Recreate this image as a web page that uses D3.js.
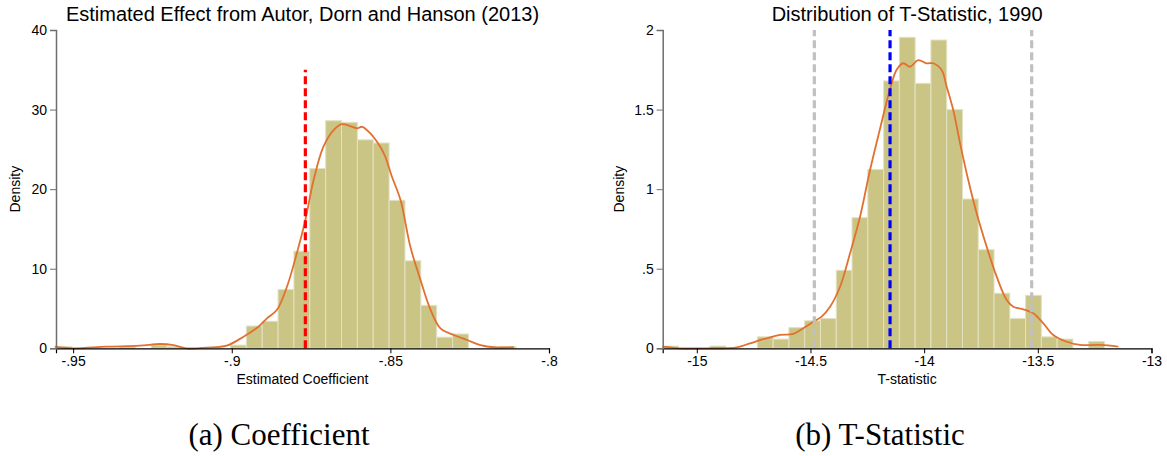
<!DOCTYPE html>
<html>
<head>
<meta charset="utf-8">
<script src="https://cdnjs.cloudflare.com/ajax/libs/d3/7.8.5/d3.min.js"></script>
<style>
  body { margin: 0; background: #fff; }
  text { font-family: "Liberation Sans", Arial, sans-serif; fill: #000; }
  .caption { font-family: "Liberation Serif", "DejaVu Serif", serif; }
</style>
</head>
<body>
<div id="chart"></div>
<script>
// ---- data ----

// panel (a): estimated coefficient
var coefBinStart = -0.9554;
var coefBinWidth = 0.005;
var coefDensity = [0.2, 0, 0, 0, 0.2, 0, 0.4, 0.2, 0, 0, 0, 0.4, 2.8, 3.4, 7.4, 12.2,
  22.6, 28.6, 28.4, 26.2, 25.8, 18.6, 11.0, 5.4, 1.4, 1.8, 0, 0, 0.2];
var coefKdeX = [-0.9558, -0.9500, -0.9395, -0.9290, -0.9226, -0.9184, -0.9142, -0.9079,
  -0.9016, -0.8963, -0.8916, -0.8889, -0.8858, -0.8826, -0.8795, -0.8768, -0.8742, -0.8711,
  -0.8679, -0.8653, -0.8626, -0.8605, -0.8589, -0.8563, -0.8532, -0.8516, -0.8495, -0.8468,
  -0.8437, -0.8405, -0.8373, -0.8342, -0.8300, -0.8258, -0.8216, -0.8174, -0.8111];
var coefKdeY = [0.2, 0.0, 0.2, 0.33, 0.54, 0.41, 0.0, 0.08, 0.33, 1.46, 2.71, 3.77, 4.81,
  7.74, 11.93, 16.12, 21.14, 25.33, 27.42, 28.17, 27.93, 27.64, 27.84, 27.01, 25.33, 24.07,
  21.56, 18.63, 12.76, 8.58, 4.81, 2.51, 1.67, 1.04, 0.41, 0.13, 0.13];
var coefTicksX = [-0.95, -0.9, -0.85, -0.8];
var coefTickLabelsX = ["-.95", "-.9", "-.85", "-.8"];
var coefTicksY = [0, 10, 20, 30, 40];
var coefTickLabelsY = ["0", "10", "20", "30", "40"];
var coefAdh = -0.8768;      // red dashed line
var coefAdhTop = 35;

// panel (b): t-statistic
var tBinStart = -15.15;
var tBinWidth = 0.0694;
var tDensity = [0.014, 0, 0, 0.014, 0, 0, 0.072, 0.058, 0.13, 0.173, 0.187, 0.49, 0.821,
  1.124, 1.68, 1.954, 1.665, 1.937, 1.50, 0.938, 0.62, 0.346, 0.187, 0.333, 0.072, 0.058, 0, 0.043];
var tKdeX = [-15.150, -15.074, -14.956, -14.824, -14.766, -14.707, -14.634, -14.576, -14.532,
  -14.488, -14.451, -14.414, -14.370, -14.326, -14.282, -14.238, -14.194, -14.150, -14.121,
  -14.092, -14.062, -14.026, -13.989, -13.960, -13.923, -13.901, -13.872, -13.842, -13.806,
  -13.769, -13.725, -13.681, -13.637, -13.608, -13.564, -13.520, -13.476, -13.432, -13.373,
  -13.314, -13.226, -13.146];
var tKdeY = [0.010, 0, 0, 0.006, 0.031, 0.057, 0.084, 0.09, 0.126, 0.167, 0.199, 0.261, 0.387,
  0.597, 0.827, 1.12, 1.38, 1.63, 1.75, 1.791, 1.769, 1.811, 1.791, 1.791, 1.749, 1.644, 1.497,
  1.288, 1.057, 0.848, 0.638, 0.45, 0.303, 0.261, 0.245, 0.22, 0.157, 0.084, 0.041, 0.021,
  0.021, 0.01];
var tTicksX = [-15, -14.5, -14, -13.5, -13];
var tTickLabelsX = ["-15", "-14.5", "-14", "-13.5", "-13"];
var tTicksY = [0, 0.5, 1, 1.5, 2];
var tTickLabelsY = ["0", ".5", "1", "1.5", "2"];
var tCritLines = [-14.483, -13.527];   // gray dashed
var tMean = -14.150;                   // blue dashed
var tLineTop = 2;

// ---- svg ----
var svgWidth = 1167;
var svgHeight = 456;

var svg = d3.select("#chart").append("svg")
  .attr("width", svgWidth)
  .attr("height", svgHeight);

var barFill = "#cbc585";
var barEdge = "#e4e1c3";
var kdeColor = "#e2702f";

function drawPanel(p) {
  var g = svg.append("g");

  var x = d3.scaleLinear().domain(p.xDomain).range(p.xRange);
  var y = d3.scaleLinear().domain(p.yDomain).range(p.yRange);

  // histogram bars
  var bins = p.density.map(function(d, i) {
    return { x0: p.binStart + i * p.binWidth, x1: p.binStart + (i + 1) * p.binWidth, h: d };
  }).filter(function(b) { return b.h > 0; });

  g.selectAll("rect.bar")
    .data(bins)
    .enter()
    .append("rect")
    .attr("class", "bar")
    .attr("x", d => x(d.x0))
    .attr("width", d => x(d.x1) - x(d.x0))
    .attr("y", d => y(d.h))
    .attr("height", d => y(0) - y(d.h))
    .attr("fill", barFill)
    .attr("stroke", barEdge)
    .attr("stroke-width", 1);

  // kernel density
  var kde = p.kdeX.map(function(v, i) { return [v, p.kdeY[i]]; });
  g.append("path")
    .datum(kde)
    .attr("fill", "none")
    .attr("stroke", kdeColor)
    .attr("stroke-width", 1.8)
    .attr("d", d3.line()
      .x(d => x(d[0]))
      .y(d => y(d[1]))
      .curve(d3.curveCatmullRom.alpha(0.5)));

  // reference lines
  g.selectAll("line.ref")
    .data(p.refLines)
    .enter()
    .append("line")
    .attr("class", "ref")
    .attr("x1", d => x(d.v))
    .attr("x2", d => x(d.v))
    .attr("y1", y(0))
    .attr("y2", d => y(d.top))
    .attr("stroke", d => d.color)
    .attr("stroke-width", 3.2)
    .attr("stroke-dasharray", "8,4");

  // axes
  var xAxis = d3.axisBottom(x)
    .tickValues(p.ticksX)
    .tickSize(5)
    .tickPadding(3)
    .tickFormat((d, i) => p.tickLabelsX[i]);
  var gx = g.append("g")
    .attr("transform", `translate(0, ${y(0)})`)
    .call(xAxis);
  gx.select(".domain").attr("stroke", "#000").attr("stroke-width", 1.2);
  gx.selectAll(".tick line").attr("stroke", "#000");
  gx.selectAll("text").style("font-size", "14px").attr("fill", "#000");

  var yAxis = d3.axisLeft(y)
    .tickValues(p.ticksY)
    .tickSize(6)
    .tickPadding(3)
    .tickFormat((d, i) => p.tickLabelsY[i]);
  var gy = g.append("g")
    .attr("transform", `translate(${p.xRange[0]}, 0)`)
    .call(yAxis);
  gy.select(".domain").attr("stroke", "#6e6e6e").attr("stroke-width", 1.5);
  gy.selectAll(".tick line").attr("stroke", "#6e6e6e");
  gy.selectAll("text").style("font-size", "14px").attr("fill", "#000");

  // texts
  var cx = (p.xRange[0] + p.xRange[1]) / 2;
  g.append("text")
    .attr("x", cx)
    .attr("y", 21)
    .attr("text-anchor", "middle")
    .style("font-size", "20px")
    .text(p.title);

  g.append("text")
    .attr("x", cx)
    .attr("y", 384)
    .attr("text-anchor", "middle")
    .style("font-size", "14px")
    .text(p.xTitle);

  g.append("text")
    .attr("transform", `translate(${p.yTitleX}, ${(p.yRange[0] + p.yRange[1]) / 2}) rotate(-90)`)
    .attr("text-anchor", "middle")
    .attr("dy", "0.35em")
    .style("font-size", "14px")
    .text("Density");

  g.append("text")
    .attr("class", "caption")
    .attr("x", p.captionX)
    .attr("y", 445)
    .attr("text-anchor", "middle")
    .style("font-size", "31px")
    .text(p.caption);
}

drawPanel({
  xDomain: [coefBinStart, -0.8], xRange: [56, 549],
  yDomain: [0, 40], yRange: [348.3, 30],
  binStart: coefBinStart, binWidth: coefBinWidth, density: coefDensity,
  kdeX: coefKdeX, kdeY: coefKdeY,
  refLines: [{ v: coefAdh, top: coefAdhTop, color: "#ff0000" }],
  ticksX: coefTicksX, tickLabelsX: coefTickLabelsX,
  ticksY: coefTicksY, tickLabelsY: coefTickLabelsY,
  title: "Estimated Effect from Autor, Dorn and Hanson (2013)",
  xTitle: "Estimated Coefficient",
  yTitleX: 15,
  caption: "(a) Coefficient", captionX: 279
});

drawPanel({
  xDomain: [tBinStart, -13], xRange: [662.7, 1151.5],
  yDomain: [0, 2], yRange: [348.3, 30],
  binStart: tBinStart, binWidth: tBinWidth, density: tDensity,
  kdeX: tKdeX, kdeY: tKdeY,
  refLines: tCritLines.map(v => ({ v: v, top: tLineTop, color: "#c0c0c0" }))
    .concat([{ v: tMean, top: tLineTop, color: "#0000ff" }]),
  ticksX: tTicksX, tickLabelsX: tTickLabelsX,
  ticksY: tTicksY, tickLabelsY: tTickLabelsY,
  title: "Distribution of T-Statistic, 1990",
  xTitle: "T-statistic",
  yTitleX: 619,
  caption: "(b) T-Statistic", captionX: 880
});
</script>
</body>
</html>
